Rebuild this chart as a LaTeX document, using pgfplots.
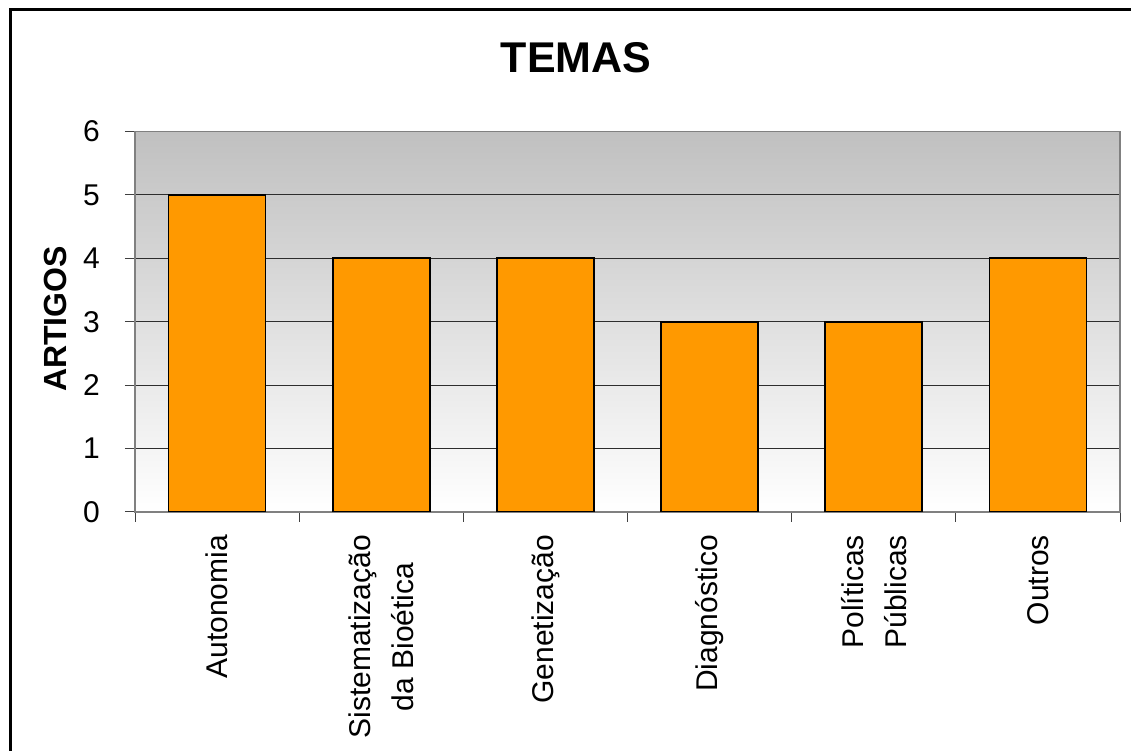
\documentclass[border=0pt]{standalone}
\usepackage{pgfplots}
\pgfplotsset{compat=1.18}
\usepackage{fontspec}
\setmainfont{Liberation Sans}
\definecolor{barorange}{RGB}{255,153,0}
\definecolor{bgtop}{RGB}{192,192,192}
\definecolor{boxgray}{RGB}{128,128,128}
\definecolor{gridc}{RGB}{45,45,45}
\begin{document}
\begin{tikzpicture}
\path[use as bounding box] (0pt,0pt) rectangle (1131pt,751pt);
\draw[line width=2.5pt] (10.7pt,-50pt) rectangle (1142pt,741.3pt);
\begin{axis}[
  at={(135pt,239pt)}, anchor=south west,
  scale only axis, width=985pt, height=380.5pt,
  xmin=-0.5, xmax=5.5, ymin=0, ymax=6,
  enlargelimits=false,
  ybar, bar width=97pt,
  axis background/.style={shade, top color=bgtop, bottom color=white},
  axis line style={draw=boxgray, line width=1.5pt},
  ymajorgrids, grid style={draw=gridc, line width=1pt},
  tick align=outside, tick pos=left,
  major tick length=10pt, minor tick length=10pt,
  tick style={draw=black!75, line width=1pt},
  xtick={0,1,2,3,4,5},
  xticklabels={Autonomia, {Sistematização\\da Bioética}, Genetização, Diagnóstico, {Políticas\\Públicas}, Outros},
  major x tick style={draw=none},
  minor xtick={-0.5,0.5,1.5,2.5,3.5,4.5,5.5},
  ytick={0,1,2,3,4,5,6},
  /pgf/number format/assume math mode=true,
  xticklabel style={yshift=-13pt, rotate=90, anchor=east, align=center, inner sep=0pt, font=\fontsize{30}{43}\selectfont},
  yticklabel style={anchor=east, inner sep=0pt, xshift=-25pt, font=\fontsize{30}{36}\selectfont},
  title={TEMAS},
  title style={at={(axis description cs:0.4477,1.179)}, anchor=center, inner sep=0pt, font=\fontsize{43}{48}\selectfont\bfseries},
  ylabel={ARTIGOS},
  ylabel style={at={(axis description cs:-0.0812,0.507)}, anchor=center, inner sep=0pt, rotate=0, font=\fontsize{32}{36}\selectfont\bfseries},
]
\addplot[fill=barorange, draw=black, line width=1.8pt, bar shift=0pt] coordinates {(0,5) (1,4) (2,4) (3,3) (4,3) (5,4)};
\end{axis}
\end{tikzpicture}
\end{document}
